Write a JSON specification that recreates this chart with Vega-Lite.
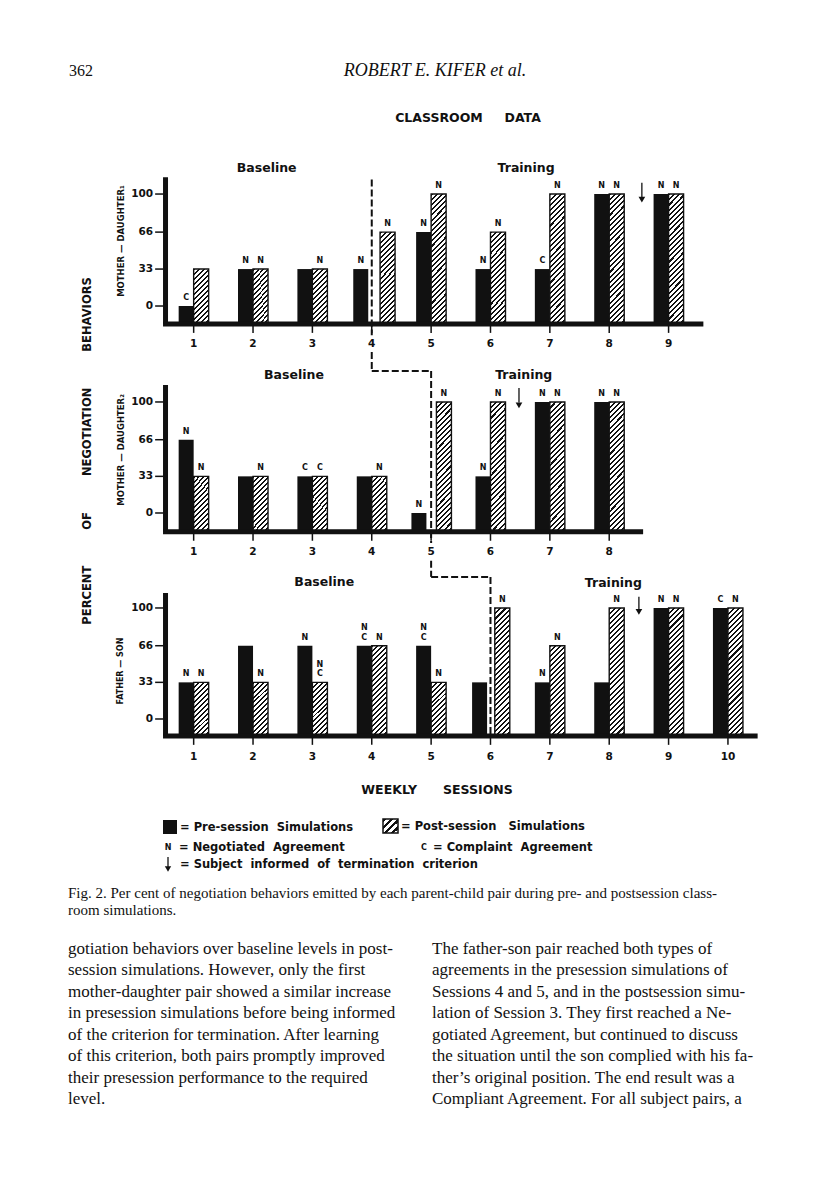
{
"$schema": "https://vega.github.io/schema/vega-lite/v6.json",
"padding": 0,
"spacing": 0,
"bounds": "flush",
"background": "white",
"config": {"view": {"stroke": null}, "axis": {"disable": true}},
"params": [
{"name": "hatch33", "value": {"gradient": "linear", "x1": 0, "y1": 0, "x2": 0.3295, "y2": 1.1862, "stops": [
{"offset":0,"color":"#111"},{"offset":0.0286,"color":"#111"},{"offset":0.0286,"color":"#fff"},{"offset":0.0714,"color":"#fff"},
{"offset":0.0714,"color":"#111"},{"offset":0.1,"color":"#111"},{"offset":0.1,"color":"#fff"},{"offset":0.1429,"color":"#fff"},
{"offset":0.1429,"color":"#111"},{"offset":0.1714,"color":"#111"},{"offset":0.1714,"color":"#fff"},{"offset":0.2143,"color":"#fff"},
{"offset":0.2143,"color":"#111"},{"offset":0.2429,"color":"#111"},{"offset":0.2429,"color":"#fff"},{"offset":0.2857,"color":"#fff"},
{"offset":0.2857,"color":"#111"},{"offset":0.3143,"color":"#111"},{"offset":0.3143,"color":"#fff"},{"offset":0.3571,"color":"#fff"},
{"offset":0.3571,"color":"#111"},{"offset":0.3857,"color":"#111"},{"offset":0.3857,"color":"#fff"},{"offset":0.4286,"color":"#fff"},
{"offset":0.4286,"color":"#111"},{"offset":0.4571,"color":"#111"},{"offset":0.4571,"color":"#fff"},{"offset":0.5,"color":"#fff"},
{"offset":0.5,"color":"#111"},{"offset":0.5286,"color":"#111"},{"offset":0.5286,"color":"#fff"},{"offset":0.5714,"color":"#fff"},
{"offset":0.5714,"color":"#111"},{"offset":0.6,"color":"#111"},{"offset":0.6,"color":"#fff"},{"offset":0.6429,"color":"#fff"},
{"offset":0.6429,"color":"#111"},{"offset":0.6714,"color":"#111"},{"offset":0.6714,"color":"#fff"},{"offset":0.7143,"color":"#fff"},
{"offset":0.7143,"color":"#111"},{"offset":0.7429,"color":"#111"},{"offset":0.7429,"color":"#fff"},{"offset":0.7857,"color":"#fff"},
{"offset":0.7857,"color":"#111"},{"offset":0.8143,"color":"#111"},{"offset":0.8143,"color":"#fff"},{"offset":0.8571,"color":"#fff"},
{"offset":0.8571,"color":"#111"},{"offset":0.8857,"color":"#111"},{"offset":0.8857,"color":"#fff"},{"offset":0.9286,"color":"#fff"},
{"offset":0.9286,"color":"#111"},{"offset":0.9571,"color":"#111"},{"offset":0.9571,"color":"#fff"},{"offset":1,"color":"#fff"}]}},
{"name": "hatch66", "value": {"gradient": "linear", "x1": 0, "y1": 0, "x2": 0.1892, "y2": 1.1351, "stops": [
{"offset":0,"color":"#111"},{"offset":0.019,"color":"#111"},{"offset":0.019,"color":"#fff"},{"offset":0.0476,"color":"#fff"},
{"offset":0.0476,"color":"#111"},{"offset":0.0667,"color":"#111"},{"offset":0.0667,"color":"#fff"},{"offset":0.0952,"color":"#fff"},
{"offset":0.0952,"color":"#111"},{"offset":0.1143,"color":"#111"},{"offset":0.1143,"color":"#fff"},{"offset":0.1429,"color":"#fff"},
{"offset":0.1429,"color":"#111"},{"offset":0.1619,"color":"#111"},{"offset":0.1619,"color":"#fff"},{"offset":0.1905,"color":"#fff"},
{"offset":0.1905,"color":"#111"},{"offset":0.2095,"color":"#111"},{"offset":0.2095,"color":"#fff"},{"offset":0.2381,"color":"#fff"},
{"offset":0.2381,"color":"#111"},{"offset":0.2571,"color":"#111"},{"offset":0.2571,"color":"#fff"},{"offset":0.2857,"color":"#fff"},
{"offset":0.2857,"color":"#111"},{"offset":0.3048,"color":"#111"},{"offset":0.3048,"color":"#fff"},{"offset":0.3333,"color":"#fff"},
{"offset":0.3333,"color":"#111"},{"offset":0.3524,"color":"#111"},{"offset":0.3524,"color":"#fff"},{"offset":0.381,"color":"#fff"},
{"offset":0.381,"color":"#111"},{"offset":0.4,"color":"#111"},{"offset":0.4,"color":"#fff"},{"offset":0.4286,"color":"#fff"},
{"offset":0.4286,"color":"#111"},{"offset":0.4476,"color":"#111"},{"offset":0.4476,"color":"#fff"},{"offset":0.4762,"color":"#fff"},
{"offset":0.4762,"color":"#111"},{"offset":0.4952,"color":"#111"},{"offset":0.4952,"color":"#fff"},{"offset":0.5238,"color":"#fff"},
{"offset":0.5238,"color":"#111"},{"offset":0.5429,"color":"#111"},{"offset":0.5429,"color":"#fff"},{"offset":0.5714,"color":"#fff"},
{"offset":0.5714,"color":"#111"},{"offset":0.5905,"color":"#111"},{"offset":0.5905,"color":"#fff"},{"offset":0.619,"color":"#fff"},
{"offset":0.619,"color":"#111"},{"offset":0.6381,"color":"#111"},{"offset":0.6381,"color":"#fff"},{"offset":0.6667,"color":"#fff"},
{"offset":0.6667,"color":"#111"},{"offset":0.6857,"color":"#111"},{"offset":0.6857,"color":"#fff"},{"offset":0.7143,"color":"#fff"},
{"offset":0.7143,"color":"#111"},{"offset":0.7333,"color":"#111"},{"offset":0.7333,"color":"#fff"},{"offset":0.7619,"color":"#fff"},
{"offset":0.7619,"color":"#111"},{"offset":0.781,"color":"#111"},{"offset":0.781,"color":"#fff"},{"offset":0.8095,"color":"#fff"},
{"offset":0.8095,"color":"#111"},{"offset":0.8286,"color":"#111"},{"offset":0.8286,"color":"#fff"},{"offset":0.8571,"color":"#fff"},
{"offset":0.8571,"color":"#111"},{"offset":0.8762,"color":"#111"},{"offset":0.8762,"color":"#fff"},{"offset":0.9048,"color":"#fff"},
{"offset":0.9048,"color":"#111"},{"offset":0.9238,"color":"#111"},{"offset":0.9238,"color":"#fff"},{"offset":0.9524,"color":"#fff"},
{"offset":0.9524,"color":"#111"},{"offset":0.9714,"color":"#111"},{"offset":0.9714,"color":"#fff"},{"offset":1,"color":"#fff"}]}},
{"name": "hatch100", "value": {"gradient": "linear", "x1": 0, "y1": 0, "x2": 0.1291, "y2": 1.1021, "stops": [
{"offset":0,"color":"#111"},{"offset":0.0143,"color":"#111"},{"offset":0.0143,"color":"#fff"},{"offset":0.0357,"color":"#fff"},
{"offset":0.0357,"color":"#111"},{"offset":0.05,"color":"#111"},{"offset":0.05,"color":"#fff"},{"offset":0.0714,"color":"#fff"},
{"offset":0.0714,"color":"#111"},{"offset":0.0857,"color":"#111"},{"offset":0.0857,"color":"#fff"},{"offset":0.1071,"color":"#fff"},
{"offset":0.1071,"color":"#111"},{"offset":0.1214,"color":"#111"},{"offset":0.1214,"color":"#fff"},{"offset":0.1429,"color":"#fff"},
{"offset":0.1429,"color":"#111"},{"offset":0.1571,"color":"#111"},{"offset":0.1571,"color":"#fff"},{"offset":0.1786,"color":"#fff"},
{"offset":0.1786,"color":"#111"},{"offset":0.1929,"color":"#111"},{"offset":0.1929,"color":"#fff"},{"offset":0.2143,"color":"#fff"},
{"offset":0.2143,"color":"#111"},{"offset":0.2286,"color":"#111"},{"offset":0.2286,"color":"#fff"},{"offset":0.25,"color":"#fff"},
{"offset":0.25,"color":"#111"},{"offset":0.2643,"color":"#111"},{"offset":0.2643,"color":"#fff"},{"offset":0.2857,"color":"#fff"},
{"offset":0.2857,"color":"#111"},{"offset":0.3,"color":"#111"},{"offset":0.3,"color":"#fff"},{"offset":0.3214,"color":"#fff"},
{"offset":0.3214,"color":"#111"},{"offset":0.3357,"color":"#111"},{"offset":0.3357,"color":"#fff"},{"offset":0.3571,"color":"#fff"},
{"offset":0.3571,"color":"#111"},{"offset":0.3714,"color":"#111"},{"offset":0.3714,"color":"#fff"},{"offset":0.3929,"color":"#fff"},
{"offset":0.3929,"color":"#111"},{"offset":0.4071,"color":"#111"},{"offset":0.4071,"color":"#fff"},{"offset":0.4286,"color":"#fff"},
{"offset":0.4286,"color":"#111"},{"offset":0.4429,"color":"#111"},{"offset":0.4429,"color":"#fff"},{"offset":0.4643,"color":"#fff"},
{"offset":0.4643,"color":"#111"},{"offset":0.4786,"color":"#111"},{"offset":0.4786,"color":"#fff"},{"offset":0.5,"color":"#fff"},
{"offset":0.5,"color":"#111"},{"offset":0.5143,"color":"#111"},{"offset":0.5143,"color":"#fff"},{"offset":0.5357,"color":"#fff"},
{"offset":0.5357,"color":"#111"},{"offset":0.55,"color":"#111"},{"offset":0.55,"color":"#fff"},{"offset":0.5714,"color":"#fff"},
{"offset":0.5714,"color":"#111"},{"offset":0.5857,"color":"#111"},{"offset":0.5857,"color":"#fff"},{"offset":0.6071,"color":"#fff"},
{"offset":0.6071,"color":"#111"},{"offset":0.6214,"color":"#111"},{"offset":0.6214,"color":"#fff"},{"offset":0.6429,"color":"#fff"},
{"offset":0.6429,"color":"#111"},{"offset":0.6571,"color":"#111"},{"offset":0.6571,"color":"#fff"},{"offset":0.6786,"color":"#fff"},
{"offset":0.6786,"color":"#111"},{"offset":0.6929,"color":"#111"},{"offset":0.6929,"color":"#fff"},{"offset":0.7143,"color":"#fff"},
{"offset":0.7143,"color":"#111"},{"offset":0.7286,"color":"#111"},{"offset":0.7286,"color":"#fff"},{"offset":0.75,"color":"#fff"},
{"offset":0.75,"color":"#111"},{"offset":0.7643,"color":"#111"},{"offset":0.7643,"color":"#fff"},{"offset":0.7857,"color":"#fff"},
{"offset":0.7857,"color":"#111"},{"offset":0.8,"color":"#111"},{"offset":0.8,"color":"#fff"},{"offset":0.8214,"color":"#fff"},
{"offset":0.8214,"color":"#111"},{"offset":0.8357,"color":"#111"},{"offset":0.8357,"color":"#fff"},{"offset":0.8571,"color":"#fff"},
{"offset":0.8571,"color":"#111"},{"offset":0.8714,"color":"#111"},{"offset":0.8714,"color":"#fff"},{"offset":0.8929,"color":"#fff"},
{"offset":0.8929,"color":"#111"},{"offset":0.9071,"color":"#111"},{"offset":0.9071,"color":"#fff"},{"offset":0.9286,"color":"#fff"},
{"offset":0.9286,"color":"#111"},{"offset":0.9429,"color":"#111"},{"offset":0.9429,"color":"#fff"},{"offset":0.9643,"color":"#fff"},
{"offset":0.9643,"color":"#111"},{"offset":0.9786,"color":"#111"},{"offset":0.9786,"color":"#fff"},{"offset":1,"color":"#fff"}]}},
{"name": "hatchSq", "value": {"gradient": "linear", "x1": 0, "y1": 0, "x2": 1, "y2": 1, "stops": [
{"offset":0,"color":"#111"},{"offset":0.1125,"color":"#111"},{"offset":0.1125,"color":"#fff"},{"offset":0.25,"color":"#fff"},
{"offset":0.25,"color":"#111"},{"offset":0.3625,"color":"#111"},{"offset":0.3625,"color":"#fff"},{"offset":0.5,"color":"#fff"},
{"offset":0.5,"color":"#111"},{"offset":0.6125,"color":"#111"},{"offset":0.6125,"color":"#fff"},{"offset":0.75,"color":"#fff"},
{"offset":0.75,"color":"#111"},{"offset":0.8625,"color":"#111"},{"offset":0.8625,"color":"#fff"},{"offset":1,"color":"#fff"}]}}
],
"datasets": {
"bars": [
{"pair":"MD1","session":1,"sim":"pre","pct":0,"agr":"C"},
{"pair":"MD1","session":1,"sim":"post","pct":33,"agr":""},
{"pair":"MD1","session":2,"sim":"pre","pct":33,"agr":"N"},
{"pair":"MD1","session":2,"sim":"post","pct":33,"agr":"N"},
{"pair":"MD1","session":3,"sim":"pre","pct":33,"agr":""},
{"pair":"MD1","session":3,"sim":"post","pct":33,"agr":"N"},
{"pair":"MD1","session":4,"sim":"pre","pct":33,"agr":"N"},
{"pair":"MD1","session":4,"sim":"post","pct":66,"agr":"N"},
{"pair":"MD1","session":5,"sim":"pre","pct":66,"agr":"N"},
{"pair":"MD1","session":5,"sim":"post","pct":100,"agr":"N"},
{"pair":"MD1","session":6,"sim":"pre","pct":33,"agr":"N"},
{"pair":"MD1","session":6,"sim":"post","pct":66,"agr":"N"},
{"pair":"MD1","session":7,"sim":"pre","pct":33,"agr":"C"},
{"pair":"MD1","session":7,"sim":"post","pct":100,"agr":"N"},
{"pair":"MD1","session":8,"sim":"pre","pct":100,"agr":"N"},
{"pair":"MD1","session":8,"sim":"post","pct":100,"agr":"N"},
{"pair":"MD1","session":9,"sim":"pre","pct":100,"agr":"N"},
{"pair":"MD1","session":9,"sim":"post","pct":100,"agr":"N"},
{"pair":"MD2","session":1,"sim":"pre","pct":66,"agr":"N"},
{"pair":"MD2","session":1,"sim":"post","pct":33,"agr":"N"},
{"pair":"MD2","session":2,"sim":"pre","pct":33,"agr":""},
{"pair":"MD2","session":2,"sim":"post","pct":33,"agr":"N"},
{"pair":"MD2","session":3,"sim":"pre","pct":33,"agr":"C"},
{"pair":"MD2","session":3,"sim":"post","pct":33,"agr":"C"},
{"pair":"MD2","session":4,"sim":"pre","pct":33,"agr":""},
{"pair":"MD2","session":4,"sim":"post","pct":33,"agr":"N"},
{"pair":"MD2","session":5,"sim":"pre","pct":0,"agr":"N"},
{"pair":"MD2","session":5,"sim":"post","pct":100,"agr":"N"},
{"pair":"MD2","session":6,"sim":"pre","pct":33,"agr":"N"},
{"pair":"MD2","session":6,"sim":"post","pct":100,"agr":"N"},
{"pair":"MD2","session":7,"sim":"pre","pct":100,"agr":"N"},
{"pair":"MD2","session":7,"sim":"post","pct":100,"agr":"N"},
{"pair":"MD2","session":8,"sim":"pre","pct":100,"agr":"N"},
{"pair":"MD2","session":8,"sim":"post","pct":100,"agr":"N"},
{"pair":"FS","session":1,"sim":"pre","pct":33,"agr":"N"},
{"pair":"FS","session":1,"sim":"post","pct":33,"agr":"N"},
{"pair":"FS","session":2,"sim":"pre","pct":66,"agr":""},
{"pair":"FS","session":2,"sim":"post","pct":33,"agr":"N"},
{"pair":"FS","session":3,"sim":"pre","pct":66,"agr":"N"},
{"pair":"FS","session":3,"sim":"post","pct":33,"agr":"N\nC"},
{"pair":"FS","session":4,"sim":"pre","pct":66,"agr":"N\nC"},
{"pair":"FS","session":4,"sim":"post","pct":66,"agr":"N"},
{"pair":"FS","session":5,"sim":"pre","pct":66,"agr":"N\nC"},
{"pair":"FS","session":5,"sim":"post","pct":33,"agr":"N"},
{"pair":"FS","session":6,"sim":"pre","pct":33,"agr":""},
{"pair":"FS","session":6,"sim":"post","pct":100,"agr":"N"},
{"pair":"FS","session":7,"sim":"pre","pct":33,"agr":"N"},
{"pair":"FS","session":7,"sim":"post","pct":66,"agr":"N"},
{"pair":"FS","session":8,"sim":"pre","pct":33,"agr":""},
{"pair":"FS","session":8,"sim":"post","pct":100,"agr":"N"},
{"pair":"FS","session":9,"sim":"pre","pct":100,"agr":"N"},
{"pair":"FS","session":9,"sim":"post","pct":100,"agr":"N"},
{"pair":"FS","session":10,"sim":"pre","pct":100,"agr":"C"},
{"pair":"FS","session":10,"sim":"post","pct":100,"agr":"N"}
],
"yticks": [{"v":0,"lab":"0"},{"v":33,"lab":"33"},{"v":66,"lab":"66"},{"v":100,"lab":"100"}],
"pagetext": [
{"part":"folio","text":"362"},
{"part":"running","text":"ROBERT E. KIFER et al."},
{"part":"title","text":"CLASSROOM\u00a0\u00a0\u00a0\u00a0\u00a0DATA"},
{"part":"caption","text":"\u00a0\u00a0\u00a0\u00a0Fig. 2. Per cent of negotiation behaviors emitted by each parent-child pair during pre- and postsession class-\nroom simulations."},
{"part":"left","text":"gotiation behaviors over baseline levels in post-\nsession simulations. However, only the first\nmother-daughter pair showed a similar increase\nin presession simulations before being informed\nof the criterion for termination. After learning\nof this criterion, both pairs promptly improved\ntheir presession performance to the required\nlevel."},
{"part":"right","text":"\u00a0\u00a0\u00a0\u00a0The father-son pair reached both types of\nagreements in the presession simulations of\nSessions 4 and 5, and in the postsession simu-\nlation of Session 3. They first reached a Ne-\ngotiated Agreement, but continued to discuss\nthe situation until the son complied with his fa-\nther\u2019s original position. The end result was a\nCompliant Agreement. For all subject pairs, a"}
]
},
"resolve": {"scale": {"x": "independent", "y": "independent"}},
"vconcat": [
{
"width": 816, "height": 160,
"data": {"name": "pagetext"},
"layer": [
{"transform":[{"filter":"datum.part == 'folio'"}],"mark":{"type":"text","align":"left","baseline":"middle","font":"Liberation Serif","fontSize":16,"color":"#111"},
 "encoding":{"x":{"datum":69,"type":"quantitative","scale":{"domain":[0,816],"nice":false,"zero":false},"axis":null},"y":{"datum":71,"type":"quantitative","scale":{"domain":[160,0],"nice":false,"zero":false},"axis":null},"text":{"field":"text","type":"nominal"}}},
{"transform":[{"filter":"datum.part == 'running'"}],"mark":{"type":"text","align":"center","baseline":"middle","font":"Liberation Serif","fontStyle":"italic","fontSize":18,"color":"#111"},
 "encoding":{"x":{"datum":435},"y":{"datum":71},"text":{"field":"text","type":"nominal"}}},
{"transform":[{"filter":"datum.part == 'title'"}],"mark":{"type":"text","align":"center","baseline":"middle","font":"DejaVu Sans","fontWeight":"bold","fontSize":12.5,"color":"#111"},
 "encoding":{"x":{"datum":468},"y":{"datum":118},"text":{"field":"text","type":"nominal"}}}
]
},
{
"width": 816, "height": 202,
"layer": [
{"data":{"name":"bars"},"transform":[{"filter":"datum.pair == 'MD1' && datum.sim == 'post'"}],
 "mark":{"type":"bar","width":15,"xOffset":{"expr":"datum.session == 4 ? 15.8 : 7.5"},"fill":{"expr":"datum.pct >= 100 ? hatch100 : (datum.pct >= 66 ? hatch66 : hatch33)"},"stroke":"#111","strokeWidth":1.4},
 "encoding":{"x":{"field":"session","type":"quantitative","scale":{"domain":[-2.178,11.399],"nice":false,"zero":false},"axis":null},"y":{"field":"pct","type":"quantitative","scale":{"domain":[-50,130.4],"nice":false,"zero":false},"axis":null},"y2":{"datum":-16}}},
{"data":{"name":"bars"},"transform":[{"filter":"datum.pair == 'MD1' && datum.sim == 'pre'"}],
 "mark":{"type":"bar","width":15,"xOffset":{"expr":"datum.session == 4 ? -11 : -7.5"},"fill":"#111"},
 "encoding":{"x":{"field":"session","type":"quantitative"},"y":{"field":"pct","type":"quantitative"},"y2":{"datum":-16}}},
{"data":{"values":[{}]},"mark":{"type":"rule","strokeWidth":5,"color":"#111"},"encoding":{"x":{"datum":0.484},"x2":{"datum":9.586},"y":{"datum":-16}}},
{"data":{"values":[{}]},"mark":{"type":"rule","strokeWidth":5,"color":"#111"},"encoding":{"x":{"datum":0.526},"y":{"datum":-16},"y2":{"datum":115}}},
{"data":{"name":"yticks"},"mark":{"type":"rule","strokeWidth":1.5,"color":"#111"},"encoding":{"x":{"datum":0.351},"x2":{"datum":0.49},"y":{"field":"v","type":"quantitative"}}},
{"data":{"name":"yticks"},"mark":{"type":"text","align":"right","baseline":"middle","font":"DejaVu Sans","fontWeight":"bold","fontSize":10.5,"color":"#111"},"encoding":{"x":{"datum":0.318},"y":{"field":"v","type":"quantitative"},"text":{"field":"lab","type":"nominal"}}},
{"data":{"name":"bars"},"transform":[{"filter":"datum.pair == 'MD1' && datum.sim == 'pre'"}],"mark":{"type":"rule","strokeWidth":1.5,"color":"#111"},"encoding":{"x":{"field":"session","type":"quantitative"},"y":{"datum":-16},"y2":{"datum":-24}}},
{"data":{"name":"bars"},"transform":[{"filter":"datum.pair == 'MD1' && datum.sim == 'pre'"}],"mark":{"type":"text","baseline":"middle","font":"DejaVu Sans","fontWeight":"bold","fontSize":10.5,"color":"#111"},"encoding":{"x":{"field":"session","type":"quantitative"},"y":{"datum":-34},"text":{"field":"session","type":"nominal"}}},
{"data":{"values":[{}]},"mark":{"type":"rule","strokeWidth":2,"strokeDash":[7,3],"color":"#111"},"encoding":{"x":{"datum":4},"y":{"datum":113},"y2":{"datum":-26}}},
{"data":{"values":[{}]},"mark":{"type":"rule","strokeWidth":2,"strokeDash":[7,3],"color":"#111"},"encoding":{"x":{"datum":4},"y":{"datum":-41},"y2":{"datum":-50}}},
{"data":{"name":"bars"},"transform":[{"filter":"datum.pair == 'MD1' && datum.sim == 'pre'"}],"mark":{"type":"text","baseline":"bottom","dy":{"expr":"length(datum.agr) > 1 ? -13.5 : -4"},"dx":{"expr":"datum.session == 4 ? -11 : -7.5"},"lineBreak":"\n","lineHeight":9.5,"font":"DejaVu Sans","fontWeight":"bold","fontSize":8,"color":"#111"},"encoding":{"x":{"field":"session","type":"quantitative"},"y":{"field":"pct","type":"quantitative"},"text":{"field":"agr","type":"nominal"}}},
{"data":{"name":"bars"},"transform":[{"filter":"datum.pair == 'MD1' && datum.sim == 'post'"}],"mark":{"type":"text","baseline":"bottom","dy":{"expr":"length(datum.agr) > 1 ? -13.5 : -4"},"dx":{"expr":"datum.session == 4 ? 15.8 : 7.5"},"lineBreak":"\n","lineHeight":9.5,"font":"DejaVu Sans","fontWeight":"bold","fontSize":8,"color":"#111"},"encoding":{"x":{"field":"session","type":"quantitative"},"y":{"field":"pct","type":"quantitative"},"text":{"field":"agr","type":"nominal"}}},
{"data":{"values":[{}]},"mark":{"type":"rule","strokeWidth":1.3,"color":"#111"},"encoding":{"x":{"datum":8.55},"y":{"datum":110},"y2":{"datum":97}}},
{"data":{"values":[{}]},"mark":{"type":"point","shape":"triangle-down","filled":true,"size":45,"color":"#111","opacity":1},"encoding":{"x":{"datum":8.55},"y":{"datum":95}}},
{"data":{"values":[{}]},"mark":{"type":"text","text":"Baseline","baseline":"middle","font":"DejaVu Sans","fontWeight":"bold","fontSize":12.5,"color":"#111"},"encoding":{"x":{"datum":2.23},"y":{"datum":123}}},
{"data":{"values":[{}]},"mark":{"type":"text","text":"Training","baseline":"middle","font":"DejaVu Sans","fontWeight":"bold","fontSize":12.5,"color":"#111"},"encoding":{"x":{"datum":6.6},"y":{"datum":123}}},
{"data":{"values":[{}]},"mark":{"type":"text","text":"MOTHER \u2014 DAUGHTER\u2081","angle":270,"align":"center","baseline":"middle","font":"DejaVu Sans","fontWeight":"bold","fontSize":8.5,"color":"#111"},"encoding":{"x":{"datum":-0.231},"y":{"datum":58}}}
]
},
{
"width": 816, "height": 210,
"layer": [
{"data":{"name":"bars"},"transform":[{"filter":"datum.pair == 'MD2' && datum.sim == 'post'"}],
 "mark":{"type":"bar","width":15,"xOffset":{"expr":"datum.session == 5 ? 12.8 : 7.5"},"fill":{"expr":"datum.pct >= 100 ? hatch100 : (datum.pct >= 66 ? hatch66 : hatch33)"},"stroke":"#111","strokeWidth":1.4},
 "encoding":{"x":{"field":"session","type":"quantitative","scale":{"domain":[-2.178,11.399],"nice":false,"zero":false},"axis":null},"y":{"field":"pct","type":"quantitative","scale":{"domain":[-53.15,136],"nice":false,"zero":false},"axis":null},"y2":{"datum":-17}}},
{"data":{"name":"bars"},"transform":[{"filter":"datum.pair == 'MD2' && datum.sim == 'pre'"}],
 "mark":{"type":"bar","width":15,"xOffset":{"expr":"datum.session == 5 ? -12.2 : -7.5"},"fill":"#111"},
 "encoding":{"x":{"field":"session","type":"quantitative"},"y":{"field":"pct","type":"quantitative"},"y2":{"datum":-17}}},
{"data":{"values":[{}]},"mark":{"type":"rule","strokeWidth":5,"color":"#111"},"encoding":{"x":{"datum":0.484},"x2":{"datum":8.571},"y":{"datum":-17}}},
{"data":{"values":[{}]},"mark":{"type":"rule","strokeWidth":5,"color":"#111"},"encoding":{"x":{"datum":0.526},"y":{"datum":-17},"y2":{"datum":115.3}}},
{"data":{"name":"yticks"},"mark":{"type":"rule","strokeWidth":1.5,"color":"#111"},"encoding":{"x":{"datum":0.351},"x2":{"datum":0.49},"y":{"field":"v","type":"quantitative"}}},
{"data":{"name":"yticks"},"mark":{"type":"text","align":"right","baseline":"middle","font":"DejaVu Sans","fontWeight":"bold","fontSize":10.5,"color":"#111"},"encoding":{"x":{"datum":0.318},"y":{"field":"v","type":"quantitative"},"text":{"field":"lab","type":"nominal"}}},
{"data":{"name":"bars"},"transform":[{"filter":"datum.pair == 'MD2' && datum.sim == 'pre'"}],"mark":{"type":"rule","strokeWidth":1.5,"color":"#111"},"encoding":{"x":{"field":"session","type":"quantitative"},"y":{"datum":-17},"y2":{"datum":-25}}},
{"data":{"name":"bars"},"transform":[{"filter":"datum.pair == 'MD2' && datum.sim == 'pre'"}],"mark":{"type":"text","baseline":"middle","font":"DejaVu Sans","fontWeight":"bold","fontSize":10.5,"color":"#111"},"encoding":{"x":{"field":"session","type":"quantitative"},"y":{"datum":-34.9},"text":{"field":"session","type":"nominal"}}},
{"data":{"values":[{}]},"mark":{"type":"rule","strokeWidth":2,"strokeDash":[7,3],"color":"#111"},"encoding":{"x":{"datum":4},"y":{"datum":136},"y2":{"datum":128}}},
{"data":{"values":[{}]},"mark":{"type":"rule","strokeWidth":2,"strokeDash":[7,3],"color":"#111"},"encoding":{"x":{"datum":4},"x2":{"datum":5},"y":{"datum":128}}},
{"data":{"values":[{}]},"mark":{"type":"rule","strokeWidth":2,"strokeDash":[7,3],"color":"#111"},"encoding":{"x":{"datum":5},"y":{"datum":128},"y2":{"datum":-27}}},
{"data":{"values":[{}]},"mark":{"type":"rule","strokeWidth":2,"strokeDash":[7,3],"color":"#111"},"encoding":{"x":{"datum":5},"y":{"datum":-43},"y2":{"datum":-53.15}}},
{"data":{"name":"bars"},"transform":[{"filter":"datum.pair == 'MD2' && datum.sim == 'pre'"}],"mark":{"type":"text","baseline":"bottom","dy":{"expr":"length(datum.agr) > 1 ? -13.5 : -4"},"dx":{"expr":"datum.session == 5 ? -12.2 : -7.5"},"lineBreak":"\n","lineHeight":9.5,"font":"DejaVu Sans","fontWeight":"bold","fontSize":8,"color":"#111"},"encoding":{"x":{"field":"session","type":"quantitative"},"y":{"field":"pct","type":"quantitative"},"text":{"field":"agr","type":"nominal"}}},
{"data":{"name":"bars"},"transform":[{"filter":"datum.pair == 'MD2' && datum.sim == 'post'"}],"mark":{"type":"text","baseline":"bottom","dy":{"expr":"length(datum.agr) > 1 ? -13.5 : -4"},"dx":{"expr":"datum.session == 5 ? 12.8 : 7.5"},"lineBreak":"\n","lineHeight":9.5,"font":"DejaVu Sans","fontWeight":"bold","fontSize":8,"color":"#111"},"encoding":{"x":{"field":"session","type":"quantitative"},"y":{"field":"pct","type":"quantitative"},"text":{"field":"agr","type":"nominal"}}},
{"data":{"values":[{}]},"mark":{"type":"rule","strokeWidth":1.3,"color":"#111"},"encoding":{"x":{"datum":6.48},"y":{"datum":112.6},"y2":{"datum":99.5}}},
{"data":{"values":[{}]},"mark":{"type":"point","shape":"triangle-down","filled":true,"size":45,"color":"#111","opacity":1},"encoding":{"x":{"datum":6.48},"y":{"datum":97}}},
{"data":{"values":[{}]},"mark":{"type":"text","text":"Baseline","baseline":"middle","font":"DejaVu Sans","fontWeight":"bold","fontSize":12.5,"color":"#111"},"encoding":{"x":{"datum":2.69},"y":{"datum":124.3}}},
{"data":{"values":[{}]},"mark":{"type":"text","text":"Training","baseline":"middle","font":"DejaVu Sans","fontWeight":"bold","fontSize":12.5,"color":"#111"},"encoding":{"x":{"datum":6.56},"y":{"datum":124.3}}},
{"data":{"values":[{}]},"mark":{"type":"text","text":"MOTHER \u2014 DAUGHTER\u2082","angle":270,"align":"center","baseline":"middle","font":"DejaVu Sans","fontWeight":"bold","fontSize":8.5,"color":"#111"},"encoding":{"x":{"datum":-0.231},"y":{"datum":56.8}}},
{"data":{"values":[{}]},"mark":{"type":"text","text":"PERCENT\u00a0\u00a0\u00a0\u00a0\u00a0\u00a0\u00a0\u00a0\u00a0OF\u00a0\u00a0\u00a0\u00a0\u00a0\u00a0\u00a0\u00a0\u00a0NEGOTIATION\u00a0\u00a0\u00a0\u00a0\u00a0\u00a0\u00a0\u00a0\u00a0BEHAVIORS","angle":270,"align":"center","baseline":"middle","font":"DejaVu Sans","fontWeight":"bold","fontSize":11.5,"color":"#111"},"encoding":{"x":{"datum":-0.78},"y":{"datum":55.9}}}
]
},
{
"width": 816, "height": 228,
"layer": [
{"data":{"name":"bars"},"transform":[{"filter":"datum.pair == 'FS' && datum.sim == 'post'"}],
 "mark":{"type":"bar","width":15,"xOffset":{"expr":"datum.session == 6 ? 11.8 : 7.5"},"fill":{"expr":"datum.pct >= 100 ? hatch100 : (datum.pct >= 66 ? hatch66 : hatch33)"},"stroke":"#111","strokeWidth":1.4},
 "encoding":{"x":{"field":"session","type":"quantitative","scale":{"domain":[-2.178,11.399],"nice":false,"zero":false},"axis":null},"y":{"field":"pct","type":"quantitative","scale":{"domain":[-72.97,132.4],"nice":false,"zero":false},"axis":null},"y2":{"datum":-15.3}}},
{"data":{"name":"bars"},"transform":[{"filter":"datum.pair == 'FS' && datum.sim == 'pre'"}],
 "mark":{"type":"bar","width":15,"xOffset":{"expr":"datum.session == 6 ? -10.9 : -7.5"},"fill":"#111"},
 "encoding":{"x":{"field":"session","type":"quantitative"},"y":{"field":"pct","type":"quantitative"},"y2":{"datum":-15.3}}},
{"data":{"values":[{}]},"mark":{"type":"rule","strokeWidth":5,"color":"#111"},"encoding":{"x":{"datum":0.484},"x2":{"datum":10.5},"y":{"datum":-15.3}}},
{"data":{"values":[{}]},"mark":{"type":"rule","strokeWidth":5,"color":"#111"},"encoding":{"x":{"datum":0.526},"y":{"datum":-15.3},"y2":{"datum":113.5}}},
{"data":{"name":"yticks"},"mark":{"type":"rule","strokeWidth":1.5,"color":"#111"},"encoding":{"x":{"datum":0.351},"x2":{"datum":0.49},"y":{"field":"v","type":"quantitative"}}},
{"data":{"name":"yticks"},"mark":{"type":"text","align":"right","baseline":"middle","font":"DejaVu Sans","fontWeight":"bold","fontSize":10.5,"color":"#111"},"encoding":{"x":{"datum":0.318},"y":{"field":"v","type":"quantitative"},"text":{"field":"lab","type":"nominal"}}},
{"data":{"name":"bars"},"transform":[{"filter":"datum.pair == 'FS' && datum.sim == 'pre'"}],"mark":{"type":"rule","strokeWidth":1.5,"color":"#111"},"encoding":{"x":{"field":"session","type":"quantitative"},"y":{"datum":-15.3},"y2":{"datum":-23.3}}},
{"data":{"name":"bars"},"transform":[{"filter":"datum.pair == 'FS' && datum.sim == 'pre'"}],"mark":{"type":"text","baseline":"middle","font":"DejaVu Sans","fontWeight":"bold","fontSize":10.5,"color":"#111"},"encoding":{"x":{"field":"session","type":"quantitative"},"y":{"datum":-34.2},"text":{"field":"session","type":"nominal"}}},
{"data":{"values":[{}]},"mark":{"type":"rule","strokeWidth":2,"strokeDash":[7,3],"color":"#111"},"encoding":{"x":{"datum":5},"y":{"datum":132.4},"y2":{"datum":128}}},
{"data":{"values":[{}]},"mark":{"type":"rule","strokeWidth":2,"strokeDash":[7,3],"color":"#111"},"encoding":{"x":{"datum":5},"x2":{"datum":6},"y":{"datum":128}}},
{"data":{"values":[{}]},"mark":{"type":"rule","strokeWidth":2,"strokeDash":[7,3],"color":"#111"},"encoding":{"x":{"datum":6},"y":{"datum":128},"y2":{"datum":-15.3}}},
{"data":{"name":"bars"},"transform":[{"filter":"datum.pair == 'FS' && datum.sim == 'pre'"}],"mark":{"type":"text","baseline":"bottom","dy":{"expr":"length(datum.agr) > 1 ? -13.5 : -4"},"dx":{"expr":"datum.session == 6 ? -10.9 : -7.5"},"lineBreak":"\n","lineHeight":9.5,"font":"DejaVu Sans","fontWeight":"bold","fontSize":8,"color":"#111"},"encoding":{"x":{"field":"session","type":"quantitative"},"y":{"field":"pct","type":"quantitative"},"text":{"field":"agr","type":"nominal"}}},
{"data":{"name":"bars"},"transform":[{"filter":"datum.pair == 'FS' && datum.sim == 'post'"}],"mark":{"type":"text","baseline":"bottom","dy":{"expr":"length(datum.agr) > 1 ? -13.5 : -4"},"dx":{"expr":"datum.session == 6 ? 11.8 : 7.5"},"lineBreak":"\n","lineHeight":9.5,"font":"DejaVu Sans","fontWeight":"bold","fontSize":8,"color":"#111"},"encoding":{"x":{"field":"session","type":"quantitative"},"y":{"field":"pct","type":"quantitative"},"text":{"field":"agr","type":"nominal"}}},
{"data":{"values":[{}]},"mark":{"type":"rule","strokeWidth":1.3,"color":"#111"},"encoding":{"x":{"datum":8.5},"y":{"datum":110.2},"y2":{"datum":98.5}}},
{"data":{"values":[{}]},"mark":{"type":"point","shape":"triangle-down","filled":true,"size":45,"color":"#111","opacity":1},"encoding":{"x":{"datum":8.5},"y":{"datum":96.5}}},
{"data":{"values":[{}]},"mark":{"type":"text","text":"Baseline","baseline":"middle","font":"DejaVu Sans","fontWeight":"bold","fontSize":12.5,"color":"#111"},"encoding":{"x":{"datum":3.2},"y":{"datum":123.7}}},
{"data":{"values":[{}]},"mark":{"type":"text","text":"Training","baseline":"middle","font":"DejaVu Sans","fontWeight":"bold","fontSize":12.5,"color":"#111"},"encoding":{"x":{"datum":8.07},"y":{"datum":122.5}}},
{"data":{"values":[{}]},"mark":{"type":"text","text":"FATHER \u2014 SON","angle":270,"align":"center","baseline":"middle","font":"DejaVu Sans","fontWeight":"bold","fontSize":8,"color":"#111"},"encoding":{"x":{"datum":-0.231},"y":{"datum":43.2}}},
{"data":{"values":[{}]},"mark":{"type":"text","text":"WEEKLY\u00a0\u00a0\u00a0\u00a0\u00a0\u00a0SESSIONS","baseline":"middle","font":"DejaVu Sans","fontWeight":"bold","fontSize":12.5,"color":"#111"},"encoding":{"x":{"datum":5.1},"y":{"datum":-64}}}
]
},
{
"width": 816, "height": 80,
"layer": [
{"data":{"values":[{}]},"mark":{"type":"rect","color":"#111"},"encoding":{"x":{"datum":163,"type":"quantitative","scale":{"domain":[0,816],"nice":false,"zero":false},"axis":null},"x2":{"datum":177},"y":{"datum":20,"type":"quantitative","scale":{"domain":[80,0],"nice":false,"zero":false},"axis":null},"y2":{"datum":34}}},
{"data":{"values":[{}]},"mark":{"type":"rect","fill":{"expr":"hatchSq"},"stroke":"#111","strokeWidth":1.5},"encoding":{"x":{"datum":383},"x2":{"datum":398},"y":{"datum":19},"y2":{"datum":33}}},
{"data":{"values":[{}]},"mark":{"type":"text","text":"=\u00a0Pre-session\u00a0\u00a0Simulations","align":"left","baseline":"middle","font":"DejaVu Sans","fontWeight":"bold","fontSize":11.5,"color":"#111"},"encoding":{"x":{"datum":180},"y":{"datum":27.5}}},
{"data":{"values":[{}]},"mark":{"type":"text","text":"=\u00a0Post-session\u00a0\u00a0\u00a0Simulations","align":"left","baseline":"middle","font":"DejaVu Sans","fontWeight":"bold","fontSize":11.5,"color":"#111"},"encoding":{"x":{"datum":401},"y":{"datum":27}}},
{"data":{"values":[{}]},"mark":{"type":"text","text":"N","align":"center","baseline":"middle","font":"DejaVu Sans","fontWeight":"bold","fontSize":8,"color":"#111"},"encoding":{"x":{"datum":168},"y":{"datum":48}}},
{"data":{"values":[{}]},"mark":{"type":"text","text":"=\u00a0Negotiated\u00a0\u00a0Agreement","align":"left","baseline":"middle","font":"DejaVu Sans","fontWeight":"bold","fontSize":11.5,"color":"#111"},"encoding":{"x":{"datum":179},"y":{"datum":48}}},
{"data":{"values":[{}]},"mark":{"type":"text","text":"C","align":"center","baseline":"middle","font":"DejaVu Sans","fontWeight":"bold","fontSize":8,"color":"#111"},"encoding":{"x":{"datum":424},"y":{"datum":48}}},
{"data":{"values":[{}]},"mark":{"type":"text","text":"=\u00a0Complaint\u00a0\u00a0Agreement","align":"left","baseline":"middle","font":"DejaVu Sans","fontWeight":"bold","fontSize":11.5,"color":"#111"},"encoding":{"x":{"datum":433},"y":{"datum":48}}},
{"data":{"values":[{}]},"mark":{"type":"rule","strokeWidth":1.3,"color":"#111"},"encoding":{"x":{"datum":168},"y":{"datum":57},"y2":{"datum":67}}},
{"data":{"values":[{}]},"mark":{"type":"point","shape":"triangle-down","filled":true,"size":40,"color":"#111","opacity":1},"encoding":{"x":{"datum":168},"y":{"datum":69}}},
{"data":{"values":[{}]},"mark":{"type":"text","text":"=\u00a0Subject\u00a0\u00a0informed\u00a0\u00a0of\u00a0\u00a0termination\u00a0\u00a0criterion","align":"left","baseline":"middle","font":"DejaVu Sans","fontWeight":"bold","fontSize":11.5,"color":"#111"},"encoding":{"x":{"datum":180},"y":{"datum":65}}}
]
},
{
"width": 816, "height": 315,
"data": {"name": "pagetext"},
"layer": [
{"transform":[{"filter":"datum.part == 'caption'"}],"mark":{"type":"text","align":"left","baseline":"alphabetic","lineBreak":"\n","lineHeight":16.5,"font":"Liberation Serif","fontSize":15,"color":"#111"},
 "encoding":{"x":{"datum":68,"type":"quantitative","scale":{"domain":[0,816],"nice":false,"zero":false},"axis":null},"y":{"datum":18,"type":"quantitative","scale":{"domain":[315,0],"nice":false,"zero":false},"axis":null},"text":{"field":"text","type":"nominal"}}},
{"transform":[{"filter":"datum.part == 'left'"}],"mark":{"type":"text","align":"left","baseline":"alphabetic","lineBreak":"\n","lineHeight":21.5,"font":"Liberation Serif","fontSize":17,"color":"#111"},
 "encoding":{"x":{"datum":68},"y":{"datum":73.5},"text":{"field":"text","type":"nominal"}}},
{"transform":[{"filter":"datum.part == 'right'"}],"mark":{"type":"text","align":"left","baseline":"alphabetic","lineBreak":"\n","lineHeight":21.5,"font":"Liberation Serif","fontSize":17,"color":"#111"},
 "encoding":{"x":{"datum":432},"y":{"datum":73.5},"text":{"field":"text","type":"nominal"}}}
]
}
]
}
